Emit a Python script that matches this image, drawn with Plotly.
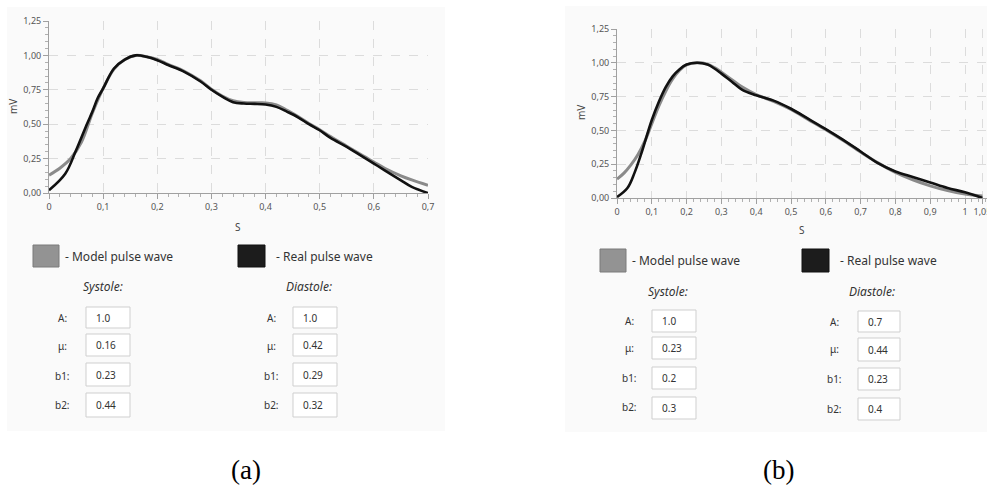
import plotly.graph_objects as go

W, H = 987, 493

# ---------------- data ----------------
# Panel (a)
a_real_x = [0, 0.03, 0.05, 0.07, 0.08, 0.09, 0.1, 0.12, 0.14, 0.16, 0.18, 0.2, 0.22, 0.25, 0.28, 0.3,
            0.32, 0.34, 0.36, 0.38, 0.4, 0.42, 0.44, 0.46, 0.48, 0.5, 0.52, 0.55, 0.58, 0.6, 0.62,
            0.65, 0.67, 0.7]
a_real_y = [0.02, 0.14, 0.31, 0.50, 0.59, 0.69, 0.76, 0.905, 0.97, 1.0, 0.99, 0.965, 0.93, 0.88,
            0.81, 0.75, 0.70, 0.66, 0.65, 0.648, 0.643, 0.626, 0.59, 0.55, 0.50, 0.456, 0.40,
            0.335, 0.262, 0.214, 0.165, 0.092, 0.044, 0.0]
a_model_x = [0, 0.02, 0.04, 0.06, 0.08, 0.1, 0.12, 0.14, 0.16, 0.18, 0.2, 0.22, 0.25, 0.28, 0.3,
             0.32, 0.34, 0.36, 0.38, 0.4, 0.42, 0.44, 0.46, 0.48, 0.5, 0.52, 0.55, 0.58, 0.6,
             0.62, 0.65, 0.67, 0.7]
a_model_y = [0.13, 0.18, 0.25, 0.37, 0.58, 0.76, 0.90, 0.97, 1.0, 0.99, 0.97, 0.935, 0.885, 0.815,
             0.755, 0.705, 0.67, 0.657, 0.655, 0.655, 0.64, 0.60, 0.555, 0.505, 0.46, 0.41, 0.34,
             0.27, 0.225, 0.18, 0.125, 0.095, 0.056]

# Panel (b)
b_real_x = [0, 0.03, 0.05, 0.07, 0.1, 0.12, 0.14, 0.16, 0.18, 0.2, 0.23, 0.26, 0.28, 0.3, 0.33,
            0.36, 0.4, 0.45, 0.5, 0.55, 0.6, 0.65, 0.7, 0.75, 0.8, 0.85, 0.9, 0.95, 1.0, 1.05]
b_real_y = [0.007, 0.074, 0.184, 0.33, 0.577, 0.71, 0.82, 0.90, 0.953, 0.987, 1.0, 0.987, 0.958,
            0.92, 0.86, 0.80, 0.76, 0.72, 0.66, 0.585, 0.51, 0.43, 0.344, 0.258, 0.196, 0.155,
            0.115, 0.074, 0.042, 0.0]
b_model_x = [0, 0.02, 0.04, 0.06, 0.08, 0.1, 0.12, 0.14, 0.16, 0.18, 0.2, 0.23, 0.26, 0.28, 0.3,
             0.33, 0.36, 0.4, 0.45, 0.5, 0.55, 0.6, 0.65, 0.7, 0.75, 0.8, 0.85, 0.9, 0.95, 1.0, 1.05]
b_model_y = [0.14, 0.184, 0.245, 0.32, 0.42, 0.55, 0.68, 0.79, 0.88, 0.945, 0.985, 1.0, 0.99, 0.965,
             0.93, 0.875, 0.82, 0.765, 0.715, 0.655, 0.58, 0.505, 0.425, 0.34, 0.26, 0.19, 0.135,
             0.09, 0.055, 0.03, 0.015]

# tick labels
y_tickvals = [0, 0.25, 0.5, 0.75, 1.0, 1.25]
y_ticktext = ["0,00", "0,25", "0,50", "0,75", "1,00", "1,25"]
a_x_tickvals = [0, 0.1, 0.2, 0.3, 0.4, 0.5, 0.6, 0.7]
a_x_ticktext = ["0", "0,1", "0,2", "0,3", "0,4", "0,5", "0,6", "0,7"]
b_x_tickvals = [0, 0.1, 0.2, 0.3, 0.4, 0.5, 0.6, 0.7, 0.8, 0.9, 1.0, 1.05]
b_x_ticktext = ["0", "0,1", "0,2", "0,3", "0,4", "0,5", "0,6", "0,7", "0,8", "0,9", "1", "1,05"]

param_names = ["A:", "\u03bc:", "b1:", "b2:"]
a_systole = ["1.0", "0.16", "0.23", "0.44"]
a_diastole = ["1.0", "0.42", "0.29", "0.32"]
b_systole = ["1.0", "0.23", "0.2", "0.3"]
b_diastole = ["0.7", "0.44", "0.23", "0.4"]

# ---------------- helpers ----------------
def px(x):
    return x / W

def py(y):
    return 1 - y / H

MODEL_C = "#8a8a8a"
REAL_C = "#111111"
UI_FONT = "Noto Sans"

fig = go.Figure()

shapes = []
annotations = []

# panel backgrounds
shapes.append(dict(type="rect", xref="paper", yref="paper", x0=px(7), x1=px(445), y0=py(431), y1=py(7),
                   fillcolor="#fafafa", line=dict(width=0), layer="below"))
shapes.append(dict(type="rect", xref="paper", yref="paper", x0=px(565), x1=px(990), y0=py(432), y1=py(6),
                   fillcolor="#fafafa", line=dict(width=0), layer="below"))

# traces
fig.add_trace(go.Scatter(x=a_model_x, y=a_model_y, mode="lines", line=dict(color=MODEL_C, width=3, shape="spline"),
                         xaxis="x", yaxis="y", showlegend=False))
fig.add_trace(go.Scatter(x=a_real_x, y=a_real_y, mode="lines", line=dict(color=REAL_C, width=2.6, shape="spline"),
                         xaxis="x", yaxis="y", showlegend=False))
fig.add_trace(go.Scatter(x=b_model_x, y=b_model_y, mode="lines", line=dict(color=MODEL_C, width=3, shape="spline"),
                         xaxis="x2", yaxis="y2", showlegend=False))
fig.add_trace(go.Scatter(x=b_real_x, y=b_real_y, mode="lines", line=dict(color=REAL_C, width=2.6, shape="spline"),
                         xaxis="x2", yaxis="y2", showlegend=False))

tickfont = dict(family=UI_FONT, size=9, color="#555555")

def xaxis_cfg(domain, rng, tv, tt, anchor):
    return dict(domain=domain, range=rng, anchor=anchor, tickvals=tv, ticktext=tt,
                showgrid=True, gridcolor="#dcdcdc", griddash="dash", gridwidth=1,
                showline=True, linecolor="#a0a0a0", linewidth=1,
                ticks="outside", ticklen=5, tickcolor="#a0a0a0", tickfont=tickfont,
                ticklabeloverflow="allow",
                minor=dict(dtick=0.02, tick0=0, ticks="outside", ticklen=3, tickcolor="#b0b0b0", showgrid=False),
                zeroline=False, fixedrange=True)

def yaxis_cfg(domain, anchor):
    return dict(domain=domain, range=[0, 1.25], anchor=anchor, tickvals=y_tickvals, ticktext=y_ticktext,
                showgrid=True, gridcolor="#dcdcdc", griddash="dash", gridwidth=1,
                showline=True, linecolor="#a0a0a0", linewidth=1,
                ticks="outside", ticklen=5, tickcolor="#a0a0a0", tickfont=tickfont,
                minor=dict(dtick=0.05, tick0=0, ticks="outside", ticklen=3, tickcolor="#b0b0b0", showgrid=False),
                zeroline=False, fixedrange=True)

b_xmax = (987 - 617) / 348.0

layout = dict(
    autosize=True,
    margin=dict(l=0, r=0, t=0, b=0, autoexpand=False),
    paper_bgcolor="white",
    plot_bgcolor="#f4f4f4",
    showlegend=False,
    xaxis=xaxis_cfg([px(49), px(428)], [0, 0.7], a_x_tickvals, a_x_ticktext, "y"),
    yaxis=yaxis_cfg([py(193), py(21)], "x"),
    xaxis2=xaxis_cfg([px(617), 1.0], [0, b_xmax], b_x_tickvals, b_x_ticktext, "y2"),
    yaxis2=yaxis_cfg([py(198), py(29)], "x2"),
)

# axis titles
for (x, y, txt, ang) in [(13, 107, "mV", -90), (238, 227, "S", 0), (581, 113, "mV", -90), (802, 230, "S", 0)]:
    annotations.append(dict(x=px(x), y=py(y), xref="paper", yref="paper", text=txt, showarrow=False,
                            textangle=ang, font=dict(family=UI_FONT, size=10, color="#444444"),
                            xanchor="center", yanchor="middle"))

def legend_block(sq1, txt1x, sq2, txt2x, y0, y1):
    ymid = (y0 + y1) / 2
    shapes.append(dict(type="rect", xref="paper", yref="paper", x0=px(sq1[0]), x1=px(sq1[1]), y0=py(y1), y1=py(y0),
                       fillcolor="#939393", line=dict(color="#7a7a7a", width=1)))
    shapes.append(dict(type="rect", xref="paper", yref="paper", x0=px(sq2[0]), x1=px(sq2[1]), y0=py(y1), y1=py(y0),
                       fillcolor="#1c1c1c", line=dict(color="#111111", width=1)))
    annotations.append(dict(x=px(txt1x), y=py(ymid), xref="paper", yref="paper", text="- Model pulse wave",
                            showarrow=False, xanchor="left", yanchor="middle",
                            font=dict(family=UI_FONT, size=12, color="#333333")))
    annotations.append(dict(x=px(txt2x), y=py(ymid), xref="paper", yref="paper", text="- Real pulse wave",
                            showarrow=False, xanchor="left", yanchor="middle",
                            font=dict(family=UI_FONT, size=12, color="#333333")))

def param_block(title, tx, ty, labx, boxx, rows_y, boxes_y, values):
    annotations.append(dict(x=px(tx), y=py(ty), xref="paper", yref="paper", text="<i>" + title + "</i>",
                            showarrow=False, xanchor="center", yanchor="middle",
                            font=dict(family=UI_FONT, size=12, color="#333333")))
    for name, ry, (by0, by1), val in zip(param_names, rows_y, boxes_y, values):
        annotations.append(dict(x=px(labx), y=py(ry), xref="paper", yref="paper", text=name,
                                showarrow=False, xanchor="center", yanchor="middle",
                                font=dict(family=UI_FONT, size=10, color="#333333")))
        shapes.append(dict(type="rect", xref="paper", yref="paper", x0=px(boxx[0]), x1=px(boxx[1]),
                           y0=py(by1), y1=py(by0), fillcolor="white", line=dict(color="#cfcfcf", width=1)))
        annotations.append(dict(x=px(boxx[0] + 8), y=py((by0 + by1) / 2), xref="paper", yref="paper", text=val,
                                showarrow=False, xanchor="left", yanchor="middle",
                                font=dict(family=UI_FONT, size=10, color="#333333")))

# panel (a) controls
legend_block((33, 59), 63, (238, 265), 274, 245, 267)
param_block("Systole:", 103, 286, 62, (86, 130), [318, 346, 376, 405],
            [(307, 328), (334, 356), (363, 386), (393, 417)], a_systole)
param_block("Diastole:", 309, 286, 271, (293, 337), [318, 346, 376, 405],
            [(307, 328), (334, 356), (363, 386), (393, 417)], a_diastole)

# panel (b) controls
legend_block((600, 626), 630, (802, 829), 838, 249, 272)
param_block("Systole:", 668, 291, 629, (652, 696), [321, 348, 378, 407],
            [(310, 332), (337, 359), (367, 389), (397, 419)], b_systole)
param_block("Diastole:", 872, 291, 834, (858, 900), [322, 349, 379, 409],
            [(311, 332), (338, 361), (368, 390), (398, 420)], b_diastole)

# captions
for x, txt in [(246, "(a)"), (778, "(b)")]:
    annotations.append(dict(x=px(x), y=py(470), xref="paper", yref="paper", text=txt, showarrow=False,
                            xanchor="center", yanchor="middle",
                            font=dict(family="Liberation Serif", size=27, color="#000000")))

layout["shapes"] = shapes
layout["annotations"] = annotations
fig.update_layout(**layout)

fig.write_html("out.html", include_plotlyjs=True, default_width="100vw", default_height="100vh",
               config={"displayModeBar": False, "responsive": True},
               post_script="document.documentElement.style.overflow='hidden';"
                           "document.body.style.margin='0';document.body.style.overflow='hidden';"
                           "Plotly.Plots.resize(document.getElementById('{plot_id}'));")
